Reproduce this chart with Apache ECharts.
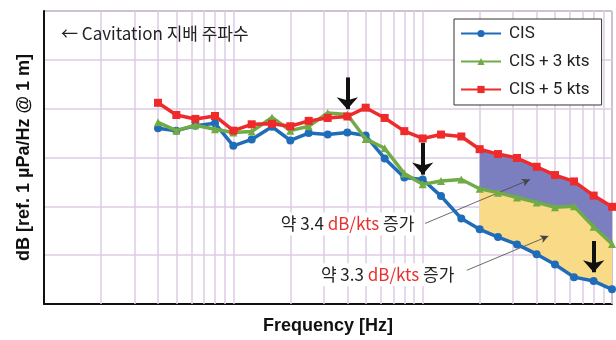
<!DOCTYPE html>
<html>
<head>
<meta charset="utf-8">
<script src="https://cdn.jsdelivr.net/npm/echarts@6/dist/echarts.min.js"></script>
<style>
  html, body { margin: 0; padding: 0; background: #fff; }
  #chart { width: 616px; height: 340px; }
</style>
</head>
<body>
<div id="chart"></div>
<script>
// 1/3-octave band centre frequencies [Hz]
const freqs = [40, 50, 63, 80, 100, 125, 160, 200, 250, 315, 400, 500, 630, 800,
  1000, 1250, 1600, 2000, 2500, 3150, 4000, 5000, 6300, 8000, 10000];

// Spectrum levels [dB re 1 µPa/Hz @ 1 m]
const cis = [116.0, 115.5, 116.5, 117.0, 112.4, 113.7, 116.3, 113.5, 115.0, 114.7,
  115.1, 114.5, 109.8, 105.9, 105.5, 102.1, 97.5, 95.3, 93.7, 92.2, 90.2, 88.1, 85.5, 84.7, 83.0];
const cis3 = [117.2, 115.5, 116.6, 115.8, 115.1, 115.3, 118.2, 115.5, 116.4, 119.1,
  118.8, 113.8, 111.9, 106.7, 104.5, 105.2, 105.5, 103.6, 102.8, 101.8, 100.8, 99.8, 100.0, 95.8, 92.3];
const cis5 = [121.2, 118.7, 117.9, 118.5, 115.5, 116.8, 116.9, 116.4, 117.5, 118.1,
  118.4, 120.2, 118.1, 115.4, 113.9, 114.7, 114.3, 111.7, 110.7, 109.9, 108.1, 106.4, 105.1, 102.2, 99.9];

const seriesNames = ['CIS', 'CIS + 3 kts', 'CIS + 5 kts'];

// Shaded increase region starts at this band
const fillFrom = 2000;

// Cavitation-dominant frequencies marked with arrows (start / tip level in dB)
const cavitationFreqs = [400, 1000, 8000];
const arrowTop = [126.4, 113.0, 92.9];
const arrowTip = [119.9, 106.5, 86.5];

// Log grid lines (2..10 × each decade)
const gridFreqs = [];
[10, 100, 1000].forEach(d => { for (let k = 2; k <= 10; k++) gridFreqs.push(k * d); });

const AX_FONT = "'Liberation Sans', Arial, sans-serif";
const TXT_FONT = "Roboto, 'Noto Sans CJK KR', sans-serif";
const KR_FONT = "'Noto Sans CJK KR', Roboto, sans-serif";
const GRID_COLOR = '#dccbe4';

const pairs = arr => freqs.map((f, i) => [f, arr[i]]);
const fillIdx = freqs.map((f, i) => i).filter(i => freqs[i] >= fillFrom);

// Filled band between two spectra, from fillFrom upward
function bandSeries(upper, lower, color) {
  return {
    type: 'custom', z: 2, silent: true,
    data: fillIdx.map(i => [freqs[i], upper[i], lower[i]]),
    encode: { x: 0, y: [1, 2] },
    renderItem: (params, api) => {
      if (params.dataIndex !== 0) return;
      const top = fillIdx.map(i => api.coord([freqs[i], upper[i]]));
      const bot = fillIdx.slice().reverse().map(i => api.coord([freqs[i], lower[i]]));
      return { type: 'polygon', shape: { points: top.concat(bot) }, style: { fill: color } };
    }
  };
}

const chart = echarts.init(document.getElementById('chart'));

chart.setOption({
  animation: false,
  backgroundColor: '#fff',
  grid: { left: 44, right: 4, top: 11, bottom: 29, show: true, borderColor: '#444', borderWidth: 1 },
  title: {
    text: '← Cavitation 지배 주파수',
    left: 56, top: 20,
    textStyle: { fontFamily: KR_FONT, fontSize: 17, fontWeight: 'normal', color: '#222' }
  },
  legend: {
    data: seriesNames,
    orient: 'vertical',
    left: 454, top: 19,
    padding: [6, 12, 7, 6],
    itemGap: 11,
    itemWidth: 40, itemHeight: 9,
    backgroundColor: '#fff',
    borderColor: '#333', borderWidth: 1,
    textStyle: { fontFamily: TXT_FONT, fontSize: 17, color: '#222', padding: [0, 0, 0, 3] }
  },
  xAxis: {
    type: 'log', logBase: 10, min: 10, max: 10000,
    name: 'Frequency [Hz]', nameLocation: 'middle', nameGap: 13,
    nameTextStyle: { fontFamily: AX_FONT, fontSize: 18, fontWeight: 'bold', color: '#111' },
    axisLine: { lineStyle: { color: '#111', width: 2 } },
    axisTick: { show: false }, axisLabel: { show: false },
    splitLine: { show: false }
  },
  yAxis: {
    type: 'value', min: 80, max: 140, interval: 10,
    name: 'dB [ref. 1 µPa/Hz @ 1 m]', nameLocation: 'middle', nameGap: 11,
    nameTextStyle: { fontFamily: AX_FONT, fontSize: 18, fontWeight: 'bold', color: '#111' },
    axisLine: { show: true, lineStyle: { color: '#111', width: 2 } },
    axisTick: { show: false }, axisLabel: { show: false },
    splitLine: { show: true, lineStyle: { color: GRID_COLOR, width: 1.5 } }
  },
  series: [
    {
      // vertical log grid lines
      type: 'line', data: [], z: 1, silent: true,
      markLine: {
        z: 1, silent: true, symbol: 'none', animation: false,
        label: { show: false },
        lineStyle: { color: GRID_COLOR, width: 1.5, type: 'solid' },
        data: gridFreqs.map(f => ({ xAxis: f }))
      }
    },
    bandSeries(cis3, cis, '#f8da87'),
    bandSeries(cis5, cis3, '#7b7fc0'),
    {
      name: seriesNames[0], type: 'line', data: pairs(cis), z: 5,
      color: '#1f6cb8',
      lineStyle: { width: 3.5 }, symbol: 'circle', symbolSize: 8,
      markPoint: {
        z: 4,
        symbol: 'rect', symbolSize: 1, itemStyle: { color: 'rgba(0,0,0,0)' },
        label: {
          show: true, position: 'inside',
          backgroundColor: '#fff', padding: [3, 2],
          rich: {
            a: { fontFamily: KR_FONT, fontSize: 17, color: '#222' },
            r: { fontFamily: KR_FONT, fontSize: 17, color: '#e8312f' }
          }
        },
        data: [
          { coord: [401, 96.4], label: { formatter: '{a|약 3.4 }{r|dB/kts}{a| 증가}' } },
          { coord: [653, 86.0], label: { formatter: '{a|약 3.3 }{r|dB/kts}{a| 증가}' } }
        ]
      },
      markLine: {
        z: 4,
        silent: true, symbol: ['none', 'arrow'], symbolSize: [6, 8],
        label: { show: false },
        lineStyle: { color: '#444', width: 0.8, type: 'solid' },
        data: [
          [{ coord: [1030, 96.5] }, { coord: [3690, 105.5] }],
          [{ coord: [1710, 86.9] }, { coord: [4613, 93.9] }]
        ]
      }
    },
    {
      name: seriesNames[1], type: 'line', data: pairs(cis3), z: 6,
      color: '#70ab47',
      lineStyle: { width: 3.5 }, symbol: 'triangle', symbolSize: 8
    },
    {
      name: seriesNames[2], type: 'line', data: pairs(cis5), z: 7,
      color: '#ee2a2a',
      lineStyle: { width: 3.5 }, symbol: 'rect', symbolSize: 8,
      markLine: {
        z: 10,
        silent: true, symbol: ['none', 'arrow'], symbolSize: [16, 12],
        label: { show: false },
        lineStyle: { color: '#111', width: 4, type: 'solid' },
        data: cavitationFreqs.map((f, i) => [{ coord: [f, arrowTop[i]] }, { coord: [f, arrowTip[i]] }])
      }
    }
  ]
});
</script>
</body>
</html>
